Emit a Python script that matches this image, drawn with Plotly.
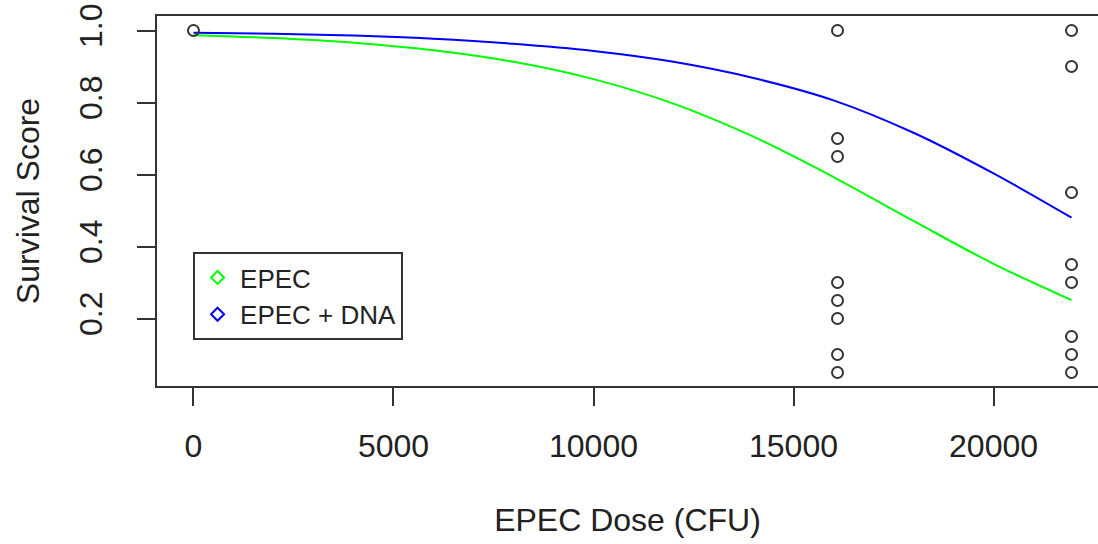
import plotly.graph_objects as go

# Observed survival scores
dose_obs = [0, 16100, 16100, 16100, 16100, 16100, 16100, 16100, 16100,
            21950, 21950, 21950, 21950, 21950, 21950, 21950, 21950]
score_obs = [1.0, 1.0, 0.7, 0.65, 0.3, 0.25, 0.2, 0.1, 0.05,
             1.0, 0.9, 0.55, 0.35, 0.3, 0.15, 0.1, 0.05]

# Fitted curves
curve_dose = [0, 2000, 4000, 6000, 8000, 10000, 12000, 14000, 16000, 18000, 20000, 21950]
epec_fit = [0.987, 0.979, 0.966, 0.945, 0.913, 0.865, 0.797, 0.705, 0.593, 0.471, 0.352, 0.251]
epec_dna_fit = [0.994, 0.991, 0.986, 0.977, 0.963, 0.943, 0.913, 0.868, 0.806, 0.716, 0.603, 0.480]

x_ticks = [0, 5000, 10000, 15000, 20000]
x_tick_labels = ["0", "5000", "10000", "15000", "20000"]
y_ticks = [0.2, 0.4, 0.6, 0.8, 1.0]
y_tick_labels = ["0.2", "0.4", "0.6", "0.8", "1.0"]

FONT = "Liberation Sans, Arial, sans-serif"
AX = "#333333"

fig = go.Figure()
fig.add_trace(go.Scatter(x=curve_dose, y=epec_fit, mode="lines", line=dict(color="#00ff00", width=2, shape="spline"),
                         showlegend=False, hoverinfo="skip"))
fig.add_trace(go.Scatter(x=curve_dose, y=epec_dna_fit, mode="lines", line=dict(color="#0000ff", width=2, shape="spline"),
                         showlegend=False, hoverinfo="skip"))
fig.add_trace(go.Scatter(x=dose_obs, y=score_obs, mode="markers",
                         marker=dict(symbol="circle-open", size=11, color=AX, line=dict(width=2, color=AX)),
                         showlegend=False))
# legend entries
fig.add_trace(go.Scatter(x=[None], y=[None], mode="markers", name="EPEC",
                         marker=dict(symbol="diamond-open", size=10, color="#00ff00", line=dict(width=2, color="#00ff00"))))
fig.add_trace(go.Scatter(x=[None], y=[None], mode="markers", name="EPEC + DNA",
                         marker=dict(symbol="diamond-open", size=10, color="#0000ff", line=dict(width=2, color="#0000ff"))))

fig.update_layout(
    width=1098, height=544,
    margin=dict(l=157, r=0, t=16, b=158),
    paper_bgcolor="white", plot_bgcolor="white",
    font=dict(family=FONT, size=32, color="#222222"),
    legend=dict(x=0.0383, y=0.362, xanchor="left", yanchor="top",
                bordercolor=AX, borderwidth=2, bgcolor="white",
                font=dict(size=26), itemwidth=35, tracegroupgap=0),
)
fig.update_xaxes(range=[-912, 22612], tickvals=x_ticks, ticktext=x_tick_labels, showgrid=False, zeroline=False,
                 showline=True, linecolor=AX, linewidth=2, mirror=True,
                 ticks="outside", ticklen=18, tickwidth=2, tickcolor=AX,
                 ticklabelstandoff=13, tickfont=dict(size=32),
                 title=dict(text="EPEC Dose (CFU)", standoff=45, font=dict(size=32)))
fig.update_yaxes(range=[0.0125, 1.0403], tickvals=y_ticks, ticktext=y_tick_labels, showgrid=False, zeroline=False,
                 showline=True, linecolor=AX, linewidth=2, mirror=False,
                 ticks="outside", ticklen=18, tickwidth=2, tickcolor=AX, tickangle=-90,
                 ticklabelstandoff=22, tickfont=dict(size=32),
                 title=dict(text="Survival Score", standoff=24, font=dict(size=32)))

fig.write_html("out.html")
